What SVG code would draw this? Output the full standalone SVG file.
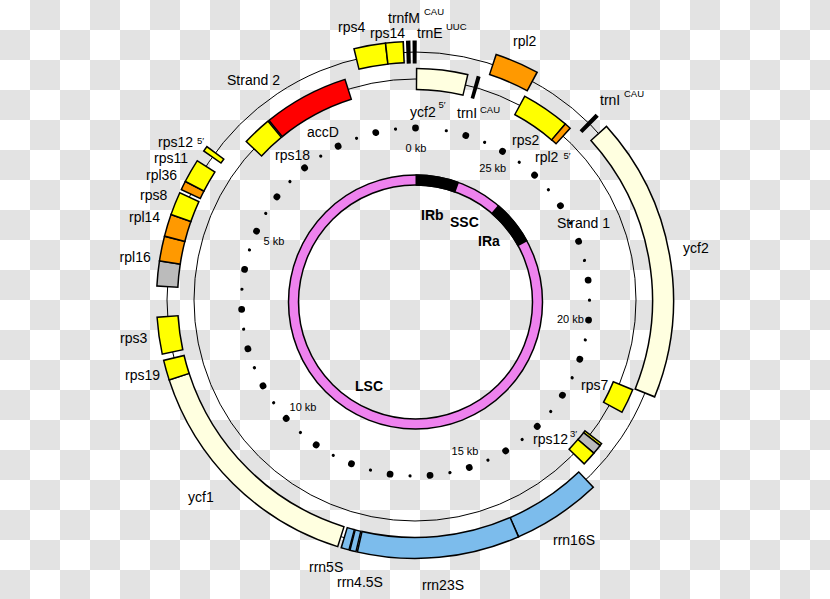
<svg xmlns="http://www.w3.org/2000/svg" xmlns:xlink="http://www.w3.org/1999/xlink" width="830" height="599" viewBox="0 0 830 599">
<style>
text{font-family:"Liberation Sans",Arial,Helvetica,sans-serif;font-size:14px;fill:#000}
.s{font-size:9.5px}
.k{font-size:11px;text-anchor:middle}
.b{font-weight:bold}
.ln{fill:none;stroke:#000;stroke-width:1}
.ko{fill:none;stroke:#000;stroke-width:22.5}
.fo{fill:none;stroke-width:19.5}
.bar{fill:none;stroke:#000;stroke-width:23}
.yl{stroke:#ffff00}.or{stroke:#ff9900}.lt{stroke:#ffffe0}.gy{stroke:#bbbbbb}.bl{stroke:#7cbcec}.rd{stroke:#ff0000}
</style>
<defs>
<pattern id="chk" width="60" height="60" patternUnits="userSpaceOnUse">
<rect width="60" height="60" fill="#ffffff"/>
<rect x="30" width="30" height="30" fill="#e3e3e3"/>
<rect y="30" width="30" height="30" fill="#e3e3e3"/>
</pattern>
<circle id="B" cy="-174" r="3.4" fill="#000"/>
<circle id="S" cy="-174" r="1.6" fill="#000"/>
</defs>
<rect width="830" height="599" fill="url(#chk)"/>

<g id="strands">
<circle class="ln" cx="415" cy="300" r="248"/>
<circle class="ln" cx="415" cy="300" r="221"/>
<text x="227" y="85">Strand 2</text>
<text x="557" y="228">Strand 1</text>
</g>

<g id="genes-outer" transform="translate(415 300)">
<g id="rps4"><circle class="ko" r="248" pathLength="360" stroke-dasharray="7.46 999" transform="rotate(256.18)"/><circle class="fo yl" r="248" pathLength="360" stroke-dasharray="6.76 999" transform="rotate(256.52)"/></g>
<g id="rps14"><circle class="ko" r="248" pathLength="360" stroke-dasharray="4.29 999" transform="rotate(263.29)"/><circle class="fo yl" r="248" pathLength="360" stroke-dasharray="3.59 999" transform="rotate(263.63)"/></g>
<g id="trnfM"><circle class="bar" r="248" pathLength="360" stroke-dasharray="1.0 999" transform="rotate(268.0)"/></g>
<g id="trnE"><circle class="bar" r="248" pathLength="360" stroke-dasharray="0.95 999" transform="rotate(269.45)"/></g>
<g id="rpl2"><circle class="ko" r="248" pathLength="360" stroke-dasharray="10.25 999" transform="rotate(-71.87)"/><circle class="fo or" r="248" pathLength="360" stroke-dasharray="9.55 999" transform="rotate(-71.53)"/></g>
<g id="trnI-a"><circle class="bar" r="248" pathLength="360" stroke-dasharray="1.0 999" transform="rotate(-45.9)"/></g>
<g id="ycf2"><circle class="ko" r="248" pathLength="360" stroke-dasharray="64.55 999" transform="rotate(-42.37)"/><circle class="fo lt" r="248" pathLength="360" stroke-dasharray="63.85 999" transform="rotate(-42.03)"/></g>
<g id="rrn16S"><circle class="ko" r="248" pathLength="360" stroke-dasharray="20.35 999" transform="rotate(46.23)"/><circle class="fo bl" r="248" pathLength="360" stroke-dasharray="19.65 999" transform="rotate(46.57)"/></g>
<g id="rrn23S"><circle class="ko" r="248" pathLength="360" stroke-dasharray="36.85 999" transform="rotate(66.23)"/><circle class="fo bl" r="248" pathLength="360" stroke-dasharray="36.15 999" transform="rotate(66.57)"/></g>
<g id="rrn4.5S"><circle class="ko" r="248" pathLength="360" stroke-dasharray="1.75 999" transform="rotate(103.03)"/><circle class="fo bl" r="248" pathLength="360" stroke-dasharray="1.05 999" transform="rotate(103.37)"/></g>
<g id="rrn5S"><circle class="ko" r="248" pathLength="360" stroke-dasharray="2.15 999" transform="rotate(104.63)"/><circle class="fo bl" r="248" pathLength="360" stroke-dasharray="1.45 999" transform="rotate(104.97)"/></g>
<g id="ycf1"><circle class="ko" r="248" pathLength="360" stroke-dasharray="54.95 999" transform="rotate(107.23)"/><circle class="fo lt" r="248" pathLength="360" stroke-dasharray="54.25 999" transform="rotate(107.57)"/></g>
<g id="rps19"><circle class="ko" r="248" pathLength="360" stroke-dasharray="4.85 999" transform="rotate(161.83)"/><circle class="fo yl" r="248" pathLength="360" stroke-dasharray="4.15 999" transform="rotate(162.17)"/></g>
<g id="rps3"><circle class="ko" r="248" pathLength="360" stroke-dasharray="8.65 999" transform="rotate(167.73)"/><circle class="fo yl" r="248" pathLength="360" stroke-dasharray="7.95 999" transform="rotate(168.07)"/></g>
<g id="rpl16"><circle class="ko" r="248" pathLength="360" stroke-dasharray="5.95 999" transform="rotate(182.93)"/><circle class="fo gy" r="248" pathLength="360" stroke-dasharray="5.25 999" transform="rotate(183.27)"/><circle class="ko" r="248" pathLength="360" stroke-dasharray="5.95 999" transform="rotate(188.53)"/><circle class="fo or" r="248" pathLength="360" stroke-dasharray="5.25 999" transform="rotate(188.87)"/></g>
<g id="rpl14"><circle class="ko" r="248" pathLength="360" stroke-dasharray="5.35 999" transform="rotate(194.13)"/><circle class="fo or" r="248" pathLength="360" stroke-dasharray="4.65 999" transform="rotate(194.47)"/></g>
<g id="rps8"><circle class="ko" r="248" pathLength="360" stroke-dasharray="5.55 999" transform="rotate(199.13)"/><circle class="fo yl" r="248" pathLength="360" stroke-dasharray="4.85 999" transform="rotate(199.47)"/></g>
<g id="rpl36"><circle class="ko" r="248" pathLength="360" stroke-dasharray="2.35 999" transform="rotate(205.13)"/><circle class="fo or" r="248" pathLength="360" stroke-dasharray="1.65 999" transform="rotate(205.47)"/></g>
<g id="rps11"><circle class="ko" r="248" pathLength="360" stroke-dasharray="5.65 999" transform="rotate(207.13)"/><circle class="fo yl" r="248" pathLength="360" stroke-dasharray="4.95 999" transform="rotate(207.47)"/></g>
<g id="rps12-5"><circle class="ko" r="248" pathLength="360" stroke-dasharray="1.55 999" transform="rotate(215.03)"/><circle class="fo yl" r="248" pathLength="360" stroke-dasharray="0.85 999" transform="rotate(215.37)"/></g>
</g>

<g id="genes-inner" transform="translate(415 300)">
<g id="ycf2-5"><circle class="ko" r="221" pathLength="360" stroke-dasharray="13.18 999" transform="rotate(-89.79)"/><circle class="fo lt" r="221" pathLength="360" stroke-dasharray="12.42 999" transform="rotate(-89.41)"/></g>
<g id="trnI-b"><circle class="bar" r="221" pathLength="360" stroke-dasharray="1.0 999" transform="rotate(-74.6)"/></g>
<g id="rps2"><circle class="ko" r="221" pathLength="360" stroke-dasharray="12.58 999" transform="rotate(-61.89)"/><circle class="fo yl" r="221" pathLength="360" stroke-dasharray="11.82 999" transform="rotate(-61.51)"/></g>
<g id="rpl2-5"><circle class="ko" r="221" pathLength="360" stroke-dasharray="1.98 999" transform="rotate(-49.69)"/><circle class="fo or" r="221" pathLength="360" stroke-dasharray="1.22 999" transform="rotate(-49.31)"/></g>
<g id="rps7"><circle class="ko" r="225" pathLength="360" stroke-dasharray="6.48 999" transform="rotate(22.21)"/><circle class="fo yl" r="225" pathLength="360" stroke-dasharray="5.72 999" transform="rotate(22.59)"/></g>
<g id="rps12-3"><circle class="ko" r="225" pathLength="360" stroke-dasharray="0.98 999" transform="rotate(37.41)"/><circle class="fo yl" r="225" pathLength="360" stroke-dasharray="0.22 999" transform="rotate(37.79)"/><circle class="ko" r="225" pathLength="360" stroke-dasharray="2.78 999" transform="rotate(38.01)"/><circle class="fo gy" r="225" pathLength="360" stroke-dasharray="2.02 999" transform="rotate(38.39)"/><circle class="ko" r="225" pathLength="360" stroke-dasharray="3.88 999" transform="rotate(40.41)"/><circle class="fo yl" r="225" pathLength="360" stroke-dasharray="3.12 999" transform="rotate(40.79)"/></g>
<g id="rps18"><circle class="ko" r="221" pathLength="360" stroke-dasharray="7.78 999" transform="rotate(223.01)"/><circle class="fo yl" r="221" pathLength="360" stroke-dasharray="7.02 999" transform="rotate(223.39)"/></g>
<g id="accD"><circle class="ko" r="221" pathLength="360" stroke-dasharray="21.88 999" transform="rotate(230.71)"/><circle class="fo rd" r="221" pathLength="360" stroke-dasharray="21.12 999" transform="rotate(231.09)"/></g>
</g>

<g id="labels">
<text x="338" y="31.5">rps4</text>
<text x="370" y="38.3">rps14</text>
<text x="388" y="22.7">trnfM</text><text class="s" x="424" y="15">CAU</text>
<text x="417" y="38.3">trnE</text><text class="s" x="446" y="30">UUC</text>
<text x="513" y="46">rpl2</text>
<text x="600" y="105">trnI</text><text class="s" x="624" y="97">CAU</text>
<text x="683" y="253">ycf2</text>
<text x="410" y="116.7">ycf2</text><text class="s" x="438.5" y="108">5′</text>
<text x="457" y="118.3">trnI</text><text class="s" x="480" y="112.8">CAU</text>
<text x="512" y="145">rps2</text>
<text x="535" y="161.7">rpl2</text><text class="s" x="563.5" y="158.5">5′</text>
<text x="307" y="136.7">accD</text>
<text x="275" y="160">rps18</text>
<text x="158" y="146.5">rps12</text><text class="s" x="197" y="143.5">5′</text>
<text x="154" y="163.3">rps11</text>
<text x="146" y="180">rpl36</text>
<text x="140" y="200">rps8</text>
<text x="129" y="221.7">rpl14</text>
<text x="119.6" y="261.7">rpl16</text>
<text x="120" y="343.3">rps3</text>
<text x="125" y="380">rps19</text>
<text x="188" y="502">ycf1</text>
<text x="309" y="571.7">rrn5S</text>
<text x="337" y="586.7">rrn4.5S</text>
<text x="422" y="590">rrn23S</text>
<text x="553" y="545">rrn16S</text>
<text x="581" y="390">rps7</text>
<text x="533" y="444">rps12</text><text class="s" x="570" y="437">3′</text>
</g>

<g id="genome-ring">
<circle cx="415.5" cy="302" r="122" fill="none" stroke="#000" stroke-width="11.5"/>
<circle cx="415.5" cy="302" r="122" fill="none" stroke="#ee82ee" stroke-width="8.5"/>
<g transform="translate(415.5 302)">
<circle r="122" fill="none" stroke="#000" stroke-width="11.5" pathLength="360" stroke-dasharray="20 999" transform="rotate(-90)"/>
<circle r="122" fill="none" stroke="#000" stroke-width="11.5" pathLength="360" stroke-dasharray="21 999" transform="rotate(-49.5)"/>
</g>
<text class="b" x="421" y="220">IRb</text>
<text class="b" x="450" y="227">SSC</text>
<text class="b" x="478" y="246">IRa</text>
<text class="b" x="355" y="391">LSC</text>
</g>

<g id="scale">
<g transform="translate(415.5 302)">
<use xlink:href="#B"/><use xlink:href="#B" transform="rotate(-13.2)"/><use xlink:href="#B" transform="rotate(-26.4)"/><use xlink:href="#B" transform="rotate(-39.6)"/><use xlink:href="#B" transform="rotate(-52.8)"/><use xlink:href="#B" transform="rotate(-66)"/><use xlink:href="#B" transform="rotate(-79.2)"/><use xlink:href="#B" transform="rotate(-92.4)"/><use xlink:href="#B" transform="rotate(-105.6)"/><use xlink:href="#B" transform="rotate(-118.8)"/><use xlink:href="#B" transform="rotate(-132)"/><use xlink:href="#B" transform="rotate(-145.2)"/><use xlink:href="#B" transform="rotate(-158.4)"/><use xlink:href="#B" transform="rotate(-171.6)"/><use xlink:href="#B" transform="rotate(-184.8)"/><use xlink:href="#B" transform="rotate(-198)"/><use xlink:href="#B" transform="rotate(-211.2)"/><use xlink:href="#B" transform="rotate(-224.4)"/><use xlink:href="#B" transform="rotate(-237.6)"/><use xlink:href="#B" transform="rotate(-250.8)"/><use xlink:href="#B" transform="rotate(-264)"/><use xlink:href="#B" transform="rotate(-277.2)"/><use xlink:href="#B" transform="rotate(-290.4)"/><use xlink:href="#B" transform="rotate(-303.6)"/><use xlink:href="#B" transform="rotate(-316.8)"/><use xlink:href="#B" transform="rotate(-330)"/><use xlink:href="#B" transform="rotate(-343.2)"/>
<use xlink:href="#S" transform="rotate(-6.6)"/><use xlink:href="#S" transform="rotate(-19.8)"/><use xlink:href="#S" transform="rotate(-33)"/><use xlink:href="#S" transform="rotate(-46.2)"/><use xlink:href="#S" transform="rotate(-59.4)"/><use xlink:href="#S" transform="rotate(-72.6)"/><use xlink:href="#S" transform="rotate(-85.8)"/><use xlink:href="#S" transform="rotate(-99)"/><use xlink:href="#S" transform="rotate(-112.2)"/><use xlink:href="#S" transform="rotate(-125.4)"/><use xlink:href="#S" transform="rotate(-138.6)"/><use xlink:href="#S" transform="rotate(-151.8)"/><use xlink:href="#S" transform="rotate(-165)"/><use xlink:href="#S" transform="rotate(-178.2)"/><use xlink:href="#S" transform="rotate(-191.4)"/><use xlink:href="#S" transform="rotate(-204.6)"/><use xlink:href="#S" transform="rotate(-217.8)"/><use xlink:href="#S" transform="rotate(-231)"/><use xlink:href="#S" transform="rotate(-244.2)"/><use xlink:href="#S" transform="rotate(-257.4)"/><use xlink:href="#S" transform="rotate(-270.6)"/><use xlink:href="#S" transform="rotate(-283.8)"/><use xlink:href="#S" transform="rotate(-297)"/><use xlink:href="#S" transform="rotate(-310.2)"/><use xlink:href="#S" transform="rotate(-323.4)"/><use xlink:href="#S" transform="rotate(-336.6)"/><use xlink:href="#S" transform="rotate(-349.8)"/>
</g>
<text class="k" x="416" y="152">0 kb</text>
<text class="k" x="274" y="245">5 kb</text>
<text class="k" x="303" y="411">10 kb</text>
<text class="k" x="465" y="455">15 kb</text>
<text class="k" x="570.4" y="323">20 kb</text>
<text class="k" x="492.8" y="172">25 kb</text>
</g>
</svg>
